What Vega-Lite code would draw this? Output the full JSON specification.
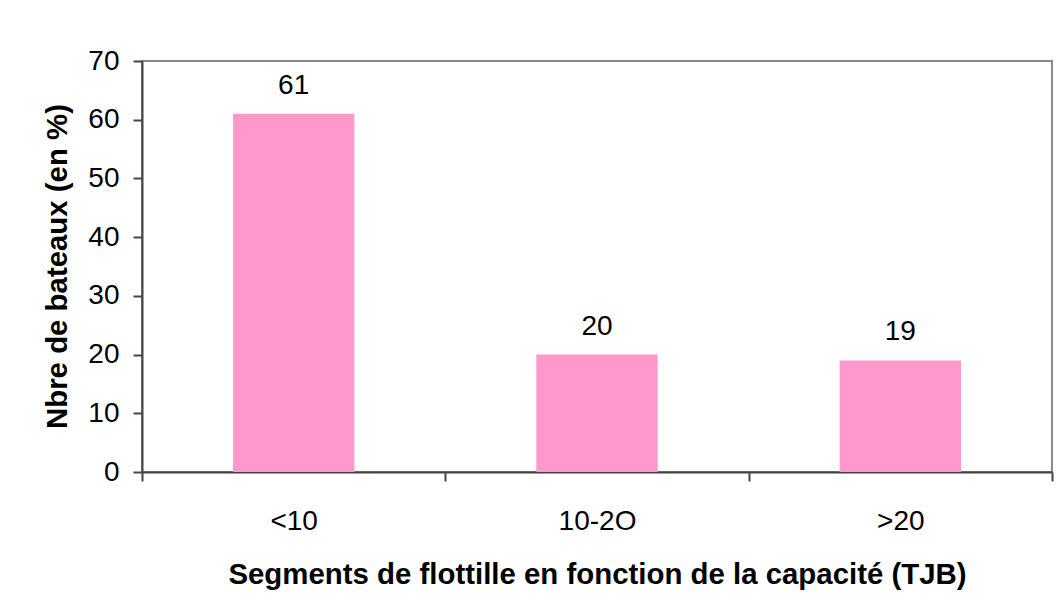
{
  "$schema": "https://vega.github.io/schema/vega-lite/v6.json",
  "width": 910,
  "height": 411,
  "autosize": {"type": "none"},
  "padding": {"left": 142, "top": 61, "right": 6, "bottom": 133},
  "background": "white",
  "config": {
    "font": "Liberation Sans",
    "view": {"stroke": "#8a8a8a", "strokeWidth": 2},
    "axis": {"grid": false, "domainColor": "#444444", "domainWidth": 2, "tickColor": "#444444", "tickWidth": 2, "labelColor": "black", "titleColor": "black", "labelFont": "Liberation Sans", "titleFont": "Liberation Sans"}
  },
  "data": {
    "values": [
      {"segment": "<10", "pct": 61},
      {"segment": "10-2O", "pct": 20},
      {"segment": ">20", "pct": 19}
    ]
  },
  "encoding": {
    "x": {
      "field": "segment",
      "type": "nominal",
      "sort": null,
      "scale": {"paddingInner": 0, "paddingOuter": 0},
      "axis": {
        "title": "Segments de flottille en fonction de la capacité (TJB)",
        "titleFontSize": 29.4,
        "titleFontWeight": "bold",
        "titleBaseline": "alphabetic",
        "titleY": 111,
        "labelAngle": 0,
        "labelFontSize": 28,
        "labelPadding": 26,
        "tickSize": 9,
        "tickBand": "extent"
      }
    },
    "y": {
      "field": "pct",
      "type": "quantitative",
      "scale": {"domain": [0, 70], "nice": false},
      "axis": {
        "title": "Nbre de bateaux (en %)",
        "titleFontSize": 29.4,
        "titleFontWeight": "bold",
        "titleBaseline": "alphabetic",
        "titleX": -76,
        "titleY": 205,
        "titleAngle": -90,
        "titleAlign": "center",
        "values": [0, 10, 20, 30, 40, 50, 60, 70],
        "labelFontSize": 28,
        "labelPadding": 14,
        "tickSize": 9
      }
    }
  },
  "layer": [
    {"mark": {"type": "bar", "color": "#FF99CC", "width": {"band": 0.4}}},
    {"mark": {"type": "text", "fontSize": 28, "baseline": "alphabetic", "dy": -20, "color": "black"}, "encoding": {"text": {"field": "pct", "type": "quantitative"}}}
  ]
}
